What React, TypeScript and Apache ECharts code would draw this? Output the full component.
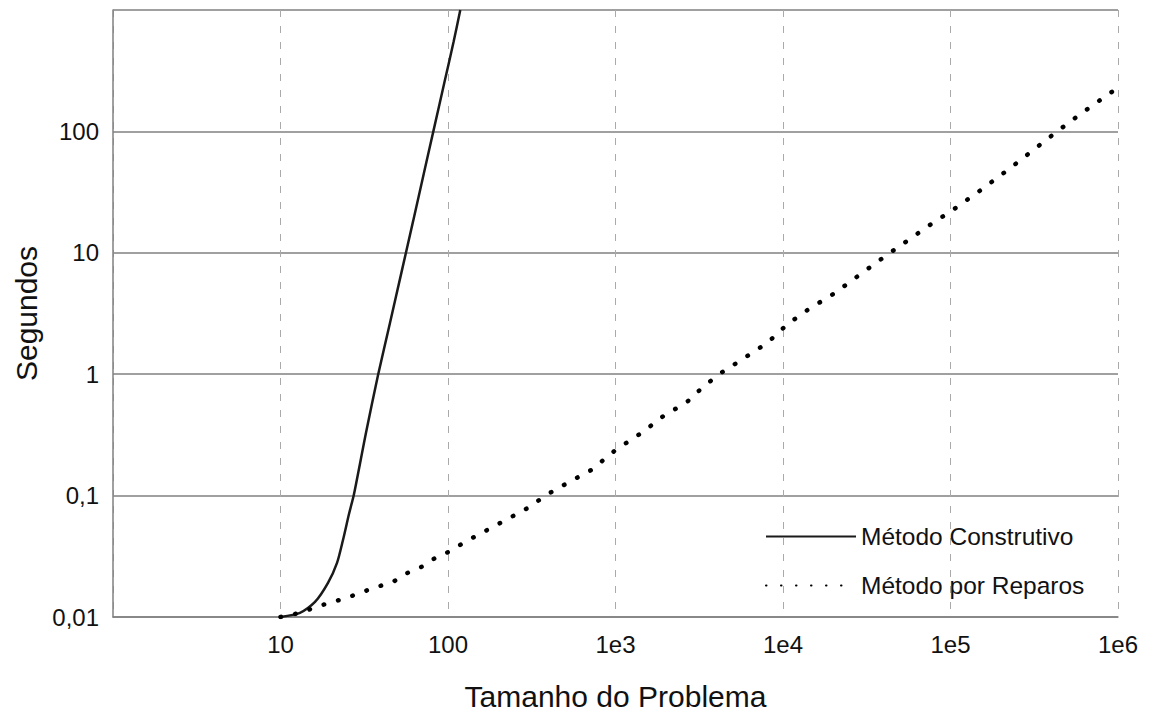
import React, { useEffect, useRef } from "react";
import * as echarts from "echarts";

const xTickLabels = ["", "10", "100", "1e3", "1e4", "1e5", "1e6"];
const yTickLabels = ["0,01", "0,1", "1", "10", "100", ""];

const seriesNames = ["Método Construtivo", "Método por Reparos"];

const construtivoX = [10, 13.07, 16.07, 19.21, 21.75, 23.61, 25.64, 27.47, 32.39, 38.2, 45, 53, 62, 72, 82, 95, 108, 118.4];
const construtivoY = [0.01, 0.0108, 0.0133, 0.0191, 0.0279, 0.0431, 0.0705, 0.1031, 0.33, 0.98, 2.63, 7.1, 18.4, 46, 102, 250, 547, 1000];

const reparosX = [10, 13, 17.9, 24.9, 35.7, 46.9, 55, 70, 85, 104, 126, 171, 238, 309, 380, 527, 714, 1000, 1440, 1923, 2670, 3280, 4150, 5930, 8020, 10700, 14100, 20400, 39500, 76500, 105000, 150000, 230000, 310000, 433000, 601000, 1000000];
const reparosY = [0.01, 0.0108, 0.0126, 0.0144, 0.0173, 0.0194, 0.0225, 0.026, 0.031, 0.035, 0.0415, 0.052, 0.0665, 0.081, 0.1, 0.129, 0.162, 0.237, 0.33, 0.45, 0.59, 0.77, 1.0, 1.37, 1.8, 2.6, 3.4, 4.67, 9.1, 17.2, 22.9, 32.5, 50.5, 69.7, 100, 140, 230];

const FONT = "'Liberation Sans', Arial, sans-serif";

export default function App() {
  const ref = useRef<HTMLDivElement>(null);
  useEffect(() => {
    if (!ref.current) return;
    const chart = echarts.init(ref.current, null, { renderer: "svg" });
    const pairs = (xs: number[], ys: number[]) => xs.map((x, i) => [x, ys[i]]);
    chart.setOption({
      animation: false,
      backgroundColor: "#ffffff",
      textStyle: { fontFamily: FONT },
      grid: { left: 113, right: 32, top: 10, bottom: 96, containLabel: false, outerBoundsMode: "none" },
      legend: {
        orient: "vertical",
        left: 760,
        top: 519,
        itemWidth: 90,
        itemHeight: 14,
        itemGap: 24,
        data: seriesNames,
        itemStyle: { opacity: 0 },
        textStyle: { fontSize: 24.5, color: "#111", fontFamily: FONT, lineHeight: 24 },
      },
      xAxis: {
        type: "log",
        logBase: 10,
        min: 1,
        max: 1000000,
        name: "Tamanho do Problema",
        nameLocation: "middle",
        nameGap: 64,
        nameTextStyle: { fontSize: 30, color: "#111", fontFamily: FONT },
        axisLine: { show: true, lineStyle: { color: "#808080", width: 1.5 } },
        axisTick: { show: false },
        axisLabel: {
          fontSize: 24,
          color: "#111",
          margin: 15,
          fontFamily: FONT,
          formatter: (v: number) => xTickLabels[Math.round(Math.log10(v))] ?? "",
        },
        splitLine: { show: true, lineStyle: { color: "#aaa", width: 1, type: [7, 9] } },
        minorTick: { show: false },
      },
      yAxis: {
        type: "log",
        logBase: 10,
        min: 0.01,
        max: 1000,
        name: "Segundos",
        nameLocation: "middle",
        nameGap: 72,
        nameTextStyle: { fontSize: 30, color: "#111", fontFamily: FONT },
        axisLine: { show: true, lineStyle: { color: "#808080", width: 1.5 } },
        axisTick: { show: false },
        axisLabel: {
          fontSize: 24,
          color: "#111",
          margin: 14,
          fontFamily: FONT,
          formatter: (v: number) => yTickLabels[Math.round(Math.log10(v)) + 2] ?? "",
        },
        splitLine: { show: true, lineStyle: { color: "#808080", width: 1.5 } },
      },
      series: [
        {
          name: seriesNames[0],
          type: "line",
          data: pairs(construtivoX, construtivoY),
          symbol: "none",
          smooth: 0.25,
          lineStyle: { color: "#1a1a1a", width: 2.5 },
          itemStyle: { color: "#1a1a1a" },
          clip: true,
        },
        {
          name: seriesNames[1],
          type: "line",
          data: pairs(reparosX, reparosY),
          symbol: "none",
          smooth: false,
          lineStyle: { color: "#000", width: 4.5, type: [0.5, 14.5], cap: "round" },
          itemStyle: { color: "#000" },
          clip: true,
        },
      ],
    });
    return () => chart.dispose();
  }, []);
  return (
    <div
      ref={ref}
      style={{ position: "fixed", left: 0, top: 0, width: 1150, height: 713, background: "#fff" }}
    />
  );
}
